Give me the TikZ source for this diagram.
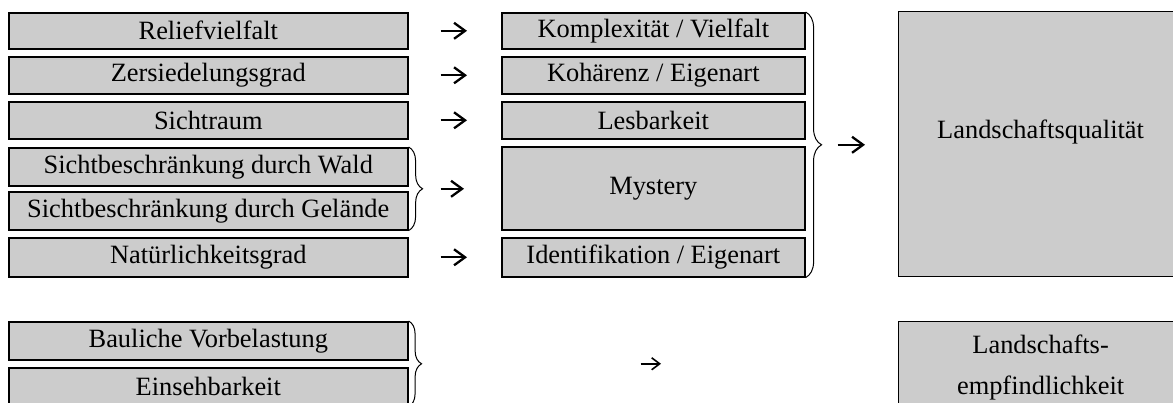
\documentclass[tikz,border=0pt]{standalone}
\usepackage{fontspec}
\setmainfont{Liberation Serif}
\usepackage{tikz}
\usetikzlibrary{arrows.meta}
\usetikzlibrary{calc}
\usetikzlibrary{decorations.pathreplacing}
\usepackage{xcolor}
\definecolor{boxgray}{RGB}{204,204,204}
\newcommand{\widthleft}{399pt}
\newcommand{\widthmid}{303pt}
\newcommand{\widthresult}{284pt}
\tikzset{
    common/.style={anchor=north west, draw, fill=boxgray, rectangle, inner sep=0pt, line width=1.6pt},
    leftbox/.style={common, minimum width=\widthleft, minimum height=37pt},
    midbox/.style={common, minimum width=\widthmid, minimum height=37pt},
    resultbox/.style={common, line width=1.2pt, minimum width=\widthresult},
    curly/.style={decorate, decoration={brace, amplitude=#1}, line width=1pt},
    curly/.default=14pt,
    step-arrow/.style={-{Straight Barb[length=11pt, width=16pt]}, line width=2.3pt},
    small-arrow/.style={-{Straight Barb[length=8pt, width=12pt]}, line width=1.6pt},
}

\begin{document}
\begin{tikzpicture}[x=1pt, y=-1pt, font=\fontsize{26.4}{41}\selectfont]
    \useasboundingbox (0,0) rectangle (1173,403);
    \clip (0,0) rectangle (1173,403);

    % indicators
    \path
        (8,12) node[leftbox, minimum height=36pt] (left-relief) {Reliefvielfalt}
        +(0,44) node[leftbox] (left-zersiedelung) {Zersiedelungsgrad}
        +(0,89) node[leftbox] (left-sichtraum) {Sichtraum}
        +(0,135) node[leftbox, minimum height=38pt] (left-wald) {Sichtbeschränkung durch Wald}
        +(0,179) node[leftbox, minimum height=38pt] (left-gelaende) {Sichtbeschränkung durch Gelände}
        +(0,225) node[leftbox, minimum height=39pt] (left-natur) {Natürlichkeitsgrad};

    % criteria
    \path
        (501,12) node[midbox, minimum height=36pt] (mid-komplex) {Komplexität / Vielfalt}
        +(0,44) node[midbox] (mid-kohaerenz) {Kohärenz / Eigenart}
        +(0,89) node[midbox] (mid-lesbarkeit) {Lesbarkeit}
        +(0,134) node[midbox, minimum height=83pt] (mid-mystery) {Mystery}
        +(0,225) node[midbox, minimum height=39pt] (mid-ident) {Identifikation / Eigenart};

    \path
        (8,321) node[leftbox, minimum height=38pt] (left-baulich) {Bauliche Vorbelastung}
        +(0,46) node[leftbox, minimum height=38pt] (left-einsehbar) {Einsehbarkeit};

    % results
    \path
        (898,11) node[resultbox, minimum height=265pt, label={[yshift=12pt]center:Landschaftsqualität}] (quality) {}
        +(0,310) node[resultbox, minimum height=92pt, align=center] (sensitivity) {Landschafts-\\empfindlichkeit};

    \draw[curly=16pt] (mid-komplex.north east) -- (mid-ident.south east);
    \draw[curly] (left-wald.north east) -- (left-gelaende.south east);
    \draw[curly=13pt] (left-baulich.north east) -- (left-einsehbar.south east);

    \coordinate (quality-tip) at ($(mid-komplex.north east)!0.5!(mid-ident.south east) + (17,0)$);
    \coordinate (mystery-tip) at ($(left-wald.north east)!0.5!(left-gelaende.south east) + (15,0)$);
    \coordinate (sensitivity-tip) at ($(left-baulich.north east)!0.5!(left-einsehbar.south east) + (14,0)$);

    \draw[step-arrow, shorten <=32pt, shorten >=34pt] (left-relief) -- (mid-komplex);
    \draw[step-arrow, shorten <=32pt, shorten >=34pt] (left-zersiedelung) -- (mid-kohaerenz);
    \draw[step-arrow, shorten <=32pt, shorten >=34pt] (left-sichtraum) -- (mid-lesbarkeit);
    \draw[step-arrow, shorten <=32pt, shorten >=34pt] (left-natur) -- (mid-ident);
    \draw[step-arrow, shorten <=17pt, shorten >=37pt] (mystery-tip) -- (mystery-tip -| mid-mystery.west);
    \draw[step-arrow, shorten <=15pt, shorten >=33pt] (quality-tip) -- (quality-tip -| quality.west);
    \draw[small-arrow, shorten <=218pt, shorten >=237pt] (sensitivity-tip) -- (sensitivity-tip -| sensitivity.west);
\end{tikzpicture}
\end{document}
